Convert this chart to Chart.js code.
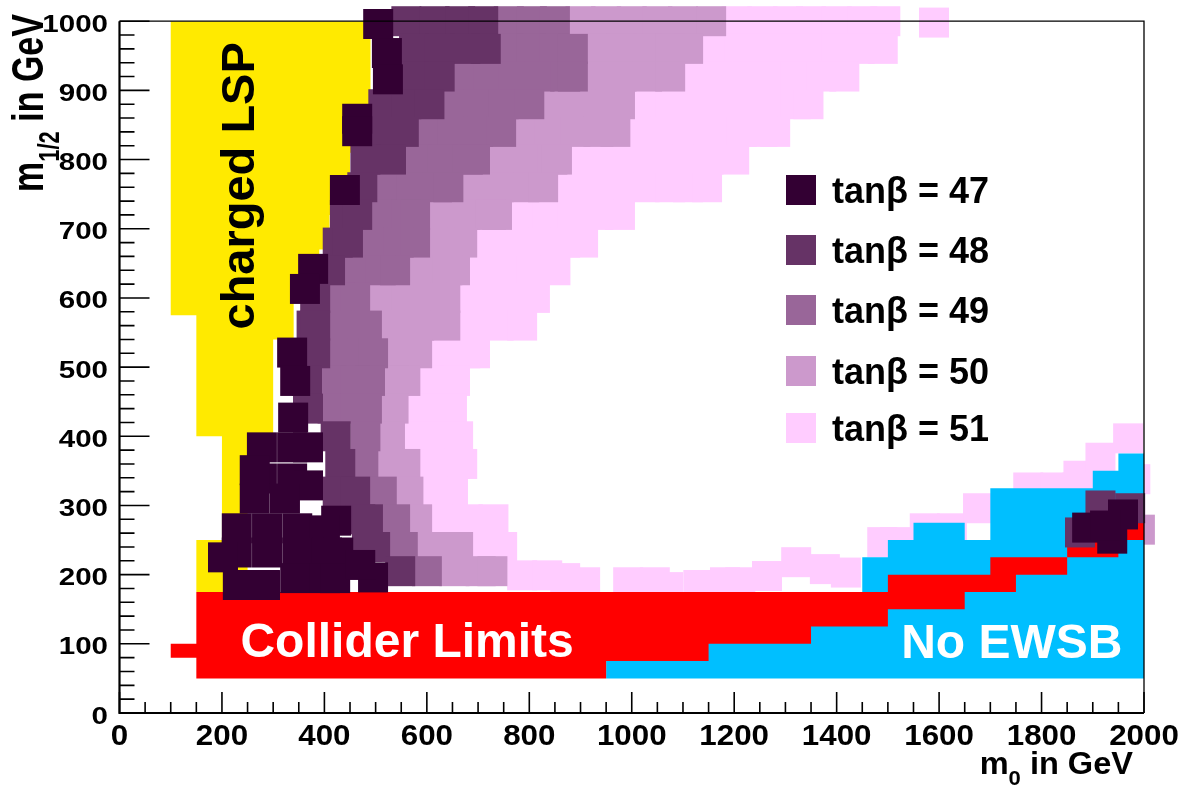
<!DOCTYPE html>
<html><head><meta charset="utf-8">
<script src="https://cdn.jsdelivr.net/npm/chart.js@4/dist/chart.umd.min.js"></script>
<style>html,body{margin:0;padding:0;background:#fff;overflow:hidden}#wrap{width:1192px;height:787px}</style>
</head><body><div id="wrap"><canvas id="c" width="1192" height="787"></canvas></div>
<script>
// ---- axis ticks ----
const xTickValues = [0,200,400,600,800,1000,1200,1400,1600,1800,2000];
const xTickLabels = ['0','200','400','600','800','1000','1200','1400','1600','1800','2000'];
const yTickValues = [0,100,200,300,400,500,600,700,800,900,1000];
const yTickLabels = ['0','100','200','300','400','500','600','700','800','900','1000'];

// ---- series (m0, m1/2) in GeV ----
const seriesLabels = ['tanβ = 47','tanβ = 48','tanβ = 49','tanβ = 50','tanβ = 51'];
const seriesColors = ['#330033','#663366','#996699','#cc99cc','#ffccff'];

const tan47 = [
 [505,996],[522,954],[524,916],[464,859],[464,841],[440,756],[378,642],[362,613],[337,521],[343,480],[339,427],
 [278,384],[337,384],[368,384],[278,339],[337,339],[368,329],[264,351],[264,310],[323,310],[423,278],
 [229,267],[288,267],[347,267],[401,264],[229,232],[288,232],[347,232],[405,232],[427,232],[202,225],
 [231,185],[284,185],[343,195],[401,195],[421,195],[495,196],[470,214],
 [1889,268],[1938,252],[1959,287],[1924,271]
];
const tan48 = [
 [560,1000],[615,1000],[665,1000],[710,1000],
 [575,960],[625,960],[675,960],[715,960],
 [575,920],[625,920],
 [515,880],[560,880],[605,880],
 [515,840],[555,840],
 [480,800],[530,800],
 [474,760],
 [440,720],[464,720],
 [426,680],[446,680],
 [411,640],
 [382,600],[375,560],[382,560],[382,520],
 [366,480],[368,440],
 [422,400],[431,360],[426,320],[460,320],[470,280],[485,280],
 [483,240],[499,240],[548,205],
 [1875,261],[1915,300],[1973,296]
];
const tan49 = [
 [760,1000],[805,1000],[850,1000],
 [760,960],[805,960],[850,960],[885,960],
 [670,920],[720,920],[770,920],[820,920],[870,920],[885,920],
 [650,880],[700,880],[750,880],[800,880],
 [600,840],[650,840],[700,840],[745,840],
 [580,800],[630,800],[680,800],[694,800],
 [522,760],[570,760],[620,760],[642,760],
 [512,720],[560,720],[577,720],
 [494,680],[545,680],[577,680],
 [459,640],[510,640],[538,640],
 [430,600],[460,600],
 [430,560],[483,560],
 [430,520],[475,520],[495,520],
 [414,480],[460,480],[489,480],
 [416,440],[460,440],[483,440],
 [480,400],[476,360],[512,320],[538,280],[553,240],[600,205],
 [1826,231]
];
const tan50 = [
 [900,1000],[950,1000],[1000,1000],[1050,1000],[1100,1000],[1155,1000],
 [930,960],[980,960],[1030,960],[1075,960],[1110,960],
 [930,920],[980,920],[1030,920],[1075,920],
 [850,880],[900,880],[950,880],[977,880],
 [790,840],[840,840],[890,840],[935,840],[968,840],
 [742,800],[795,800],[845,800],[854,800],
 [690,760],[740,760],[790,760],[827,760],
 [625,720],[675,720],[725,720],[737,720],
 [625,680],[669,680],
 [586,640],[640,640],[655,640],
 [508,600],[560,600],[610,600],[636,600],
 [531,560],[585,560],[636,560],
 [543,520],[581,520],
 [537,480],[558,480],
 [535,440],[528,400],
 [524,360],[558,360],
 [564,320],[581,280],
 [606,240],[661,240],
 [654,205],[705,205],[728,205],
 [1992,265]
];
const tan51 = [
 [1205,1000],[1255,1000],[1305,1000],[1350,1000],[1400,1000],[1450,1000],[1495,1000],[1590,998],
 [1160,960],[1210,960],[1260,960],[1305,960],[1350,960],[1400,960],[1445,960],[1490,960],
 [1125,920],[1175,920],[1225,920],[1270,920],[1320,920],[1370,920],[1415,920],
 [1025,880],[1075,880],[1125,880],[1175,880],[1225,880],[1275,880],[1320,880],[1345,880],
 [1015,840],[1065,840],[1115,840],[1165,840],[1215,840],[1255,840],[1280,840],
 [900,800],[950,800],[1000,800],[1050,800],[1100,800],[1150,800],[1200,800],
 [875,760],[925,760],[975,760],[1025,760],[1075,760],[1110,760],[1147,760],
 [785,720],[835,720],[885,720],[935,720],[977,720],
 [717,680],[770,680],[825,680],[870,680],[905,680],
 [703,640],[755,640],[805,640],[851,640],
 [684,600],[735,600],[785,600],[811,600],
 [684,560],[740,560],[786,560],
 [629,520],[675,520],[694,520],
 [606,480],[655,480],
 [586,440],[635,440],[649,440],
 [576,400],[630,400],[661,400],
 [606,360],[655,360],[669,360],
 [612,320],[651,320],
 [629,280],[680,280],[730,280],
 [709,240],[747,240],
 [786,199],[835,199],[870,195],[909,189],[993,189],[1045,189],[1071,182],[1130,185],[1182,189],[1212,189],[1264,198],[1321,218],[1377,208],[1418,203],
 [1489,247],[1514,247],[1572,267],[1625,267],[1676,296],[1774,326],[1827,326],[1870,326],[1872,343],[1915,369],[1969,397],[1983,338]
];

// ---- excluded regions (polygons, GeV) ----
const regionLabels = ['charged LSP','Collider Limits','No EWSB'];
const chargedLSP = [[100,1000],[490,1000],[490,880],[470,880],[470,810],[450,810],[450,720],[410,720],[410,670],[390,670],[390,600],[340,600],[340,540],[300,540],[300,400],[250,400],[250,175],[150,175],[150,250],[200,250],[200,400],[150,400],[150,575],[100,575]];
const colliderLimits = [[100,80],[150,80],[150,50],[950,50],[950,75],[1150,75],[1150,100],[1350,100],[1350,125],[1500,125],[1500,150],[1650,150],[1650,175],[1750,175],[1750,200],[1850,200],[1850,225],[1950,225],[1950,250],[2000,250],[2000,275],[1950,275],[1950,250],[1850,250],[1850,225],[1700,225],[1700,200],[1500,200],[1500,175],[150,175],[150,100],[100,100]];
const noEWSB = [[950,50],[2000,50],[2000,375],[1950,375],[1950,350],[1900,350],[1900,325],[1700,325],[1700,250],[1650,250],[1650,275],[1550,275],[1550,250],[1500,250],[1500,225],[1450,225],[1450,175],[950,175]];
const lspLabelPos = [263,762];
const colliderLabelPos = [236,81];
const ewsbLabelPos = [1526,79];

const toXY = a => a.map(p => ({x:p[0], y:p[1]}));
const FONT = '"Liberation Sans", Arial, Helvetica, sans-serif';

function markerSet(data, i, order){
  return {type:'scatter', label:seriesLabels[i], data:toXY(data), backgroundColor:seriesColors[i],
    pointStyle:'rect', pointRadius:21.21, pointHoverRadius:21.21, borderWidth:0, pointBorderWidth:0,
    clip:false, order:order};
}
function regionSet(data, color, order){
  return {type:'line', label:'', data:toXY(data), showLine:true, fill:'shape', backgroundColor:color,
    borderColor:'rgba(0,0,0,0)', borderWidth:0, pointRadius:0, pointHoverRadius:0, tension:0, order:order};
}

const rootPlugin = {
  id:'rootStyle',
  afterDatasetsDraw(chart){
    const {ctx, chartArea:a} = chart;
    const xs = chart.scales.x, ys = chart.scales.y;
    const X = v => xs.getPixelForValue(v), Y = v => ys.getPixelForValue(v);
    ctx.save();
    ctx.textBaseline = 'alphabetic';
    // region labels
    ctx.fillStyle = '#000';
    ctx.font = 'bold 47px ' + FONT;
    ctx.save(); ctx.translate(X(lspLabelPos[0]), Y(lspLabelPos[1])); ctx.rotate(-Math.PI/2);
    ctx.textAlign = 'center'; ctx.fillText(regionLabels[0], 0, 0); ctx.restore();
    ctx.fillStyle = '#fff';
    ctx.font = 'bold 48px ' + FONT;
    ctx.textAlign = 'left';
    ctx.fillText(regionLabels[1], X(colliderLabelPos[0]), Y(colliderLabelPos[1]));
    ctx.fillText(regionLabels[2], X(ewsbLabelPos[0]), Y(ewsbLabelPos[1]));
    // legend
    const rows = [190,250,310,371,428];
    rows.forEach((cy,i) => {
      ctx.fillStyle = seriesColors[i];
      ctx.fillRect(786, cy-15, 30, 30);
      ctx.fillStyle = '#000';
      ctx.font = 'bold 36px ' + FONT;
      ctx.textAlign = 'left';
      ctx.fillText(seriesLabels[i], 832, cy+13);
    });
    // frame
    ctx.strokeStyle = '#000';
    ctx.lineWidth = 1.3;
    ctx.beginPath(); ctx.moveTo(a.left, a.top); ctx.lineTo(a.right, a.top); ctx.lineTo(a.right, a.bottom); ctx.stroke();
    ctx.lineWidth = 2.2;
    ctx.beginPath(); ctx.moveTo(a.left, a.top); ctx.lineTo(a.left, a.bottom); ctx.lineTo(a.right, a.bottom); ctx.stroke();
    // ticks (inside)
    ctx.lineWidth = 1.6;
    ctx.beginPath();
    for (let v = 0; v <= 1000; v += 20){ const p = Y(v); const len = (v % 100 === 0) ? 30 : 15; ctx.moveTo(a.left, p); ctx.lineTo(a.left+len, p); }
    for (let v = 0; v <= 2000; v += 50){ const p = X(v); const len = (v % 200 === 0) ? 21 : 11; ctx.moveTo(p, a.bottom); ctx.lineTo(p, a.bottom-len); }
    ctx.stroke();
    // tick labels
    ctx.fillStyle = '#000';
    ctx.font = 'bold 24px ' + FONT;
    yTickValues.forEach((v,i) => { ctx.save(); ctx.translate(a.left-11.5, Y(v)+10.5); ctx.scale(1.23,1); ctx.textAlign='right'; ctx.fillText(yTickLabels[i],0,0); ctx.restore(); });
    ctx.font = 'bold 29px ' + FONT;
    xTickValues.forEach((v,i) => { ctx.save(); ctx.translate(X(v), a.bottom+32); ctx.scale(1.08,1); ctx.textAlign='center'; ctx.fillText(xTickLabels[i],0,0); ctx.restore(); });
    // x title: m_0 in GeV
    ctx.textAlign = 'left';
    ctx.font = 'bold 31px ' + FONT; const wM = ctx.measureText('m').width; const wR = ctx.measureText(' in GeV').width;
    ctx.font = 'bold 21px ' + FONT; const wS = ctx.measureText('0').width;
    const sx = 1.05, tot = (wM+wS+wR)*sx;
    ctx.save(); ctx.translate(a.right-11-tot, a.bottom+61); ctx.scale(sx,1);
    ctx.font = 'bold 31px ' + FONT; ctx.fillText('m',0,0);
    ctx.font = 'bold 21px ' + FONT; ctx.fillText('0',wM,11);
    ctx.font = 'bold 31px ' + FONT; ctx.fillText(' in GeV',wM+wS,0);
    ctx.restore();
    // y title: m_1/2 in GeV
    ctx.font = 'bold 34px ' + FONT; const yM = ctx.measureText('m').width;
    ctx.font = 'bold 22px ' + FONT; const yS = ctx.measureText('1/2').width;
    ctx.save(); ctx.translate(43, Y(0)-521); ctx.scale(1.3,1); ctx.rotate(-Math.PI/2);
    ctx.font = 'bold 34px ' + FONT; ctx.fillText('m',0,0);
    ctx.font = 'bold 22px ' + FONT; ctx.fillText('1/2',yM,12);
    ctx.font = 'bold 34px ' + FONT; ctx.fillText(' in GeV',yM+yS,0);
    ctx.restore();
    ctx.restore();
  }
};

new Chart(document.getElementById('c'), {
  type:'scatter',
  data:{datasets:[
    markerSet(tan47,0,0),
    markerSet(tan48,1,1),
    regionSet(colliderLimits,'#ff0000',2),
    regionSet(noEWSB,'#00bfff',3),
    regionSet(chargedLSP,'#ffea00',4),
    markerSet(tan49,2,5),
    markerSet(tan50,3,6),
    markerSet(tan51,4,7)
  ]},
  options:{
    responsive:false, maintainAspectRatio:false, devicePixelRatio:1, animation:false, events:[],
    layout:{padding:{left:119.5, top:20, right:48, bottom:74}},
    scales:{
      x:{type:'linear', min:0, max:2000, display:false},
      y:{type:'linear', min:0, max:1000, display:false}
    },
    plugins:{legend:{display:false}, tooltip:{enabled:false}}
  },
  plugins:[rootPlugin]
});
</script>
</body></html>
